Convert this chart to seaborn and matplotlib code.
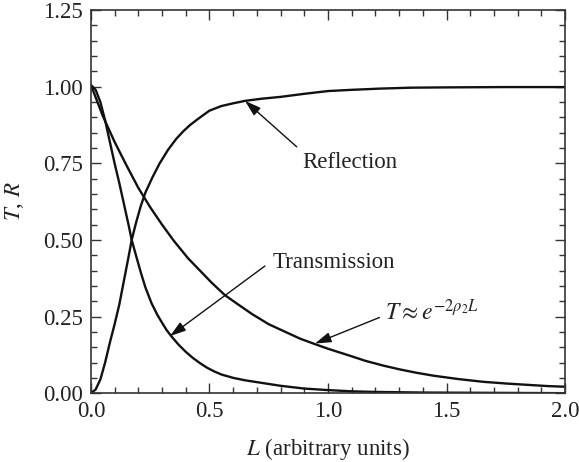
import matplotlib
matplotlib.use("Agg")
import matplotlib.pyplot as plt
from matplotlib.ticker import MultipleLocator
import seaborn as sns
import pandas as pd

# Barrier length (arbitrary units) and curves sampled along it
trans_L = [0.00, 0.02, 0.04, 0.06, 0.08, 0.10, 0.12, 0.14, 0.16, 0.172,
           0.19, 0.21, 0.23, 0.256, 0.28, 0.30, 0.32, 0.34, 0.37, 0.40,
           0.43, 0.46, 0.49, 0.52, 0.55, 0.60, 0.65, 0.70, 0.80, 0.90,
           1.00, 1.10, 1.20, 1.40, 1.70, 2.00]
trans_T = [1.006, 0.99, 0.95, 0.89, 0.82, 0.75, 0.685, 0.615, 0.545, 0.50,
           0.45, 0.395, 0.345, 0.293, 0.256, 0.23, 0.205, 0.185, 0.158, 0.135,
           0.115, 0.098, 0.083, 0.071, 0.061, 0.050, 0.042, 0.036, 0.024, 0.015,
           0.010, 0.006, 0.004, 0.002, 0.001, 0.000]

refl_L = [0.00, 0.02, 0.04, 0.06, 0.08, 0.10, 0.12, 0.14, 0.16, 0.172,
          0.19, 0.21, 0.23, 0.26, 0.29, 0.326, 0.36, 0.39, 0.418, 0.45,
          0.48, 0.50, 0.55, 0.60, 0.65, 0.72, 0.80, 0.90, 1.00, 1.10,
          1.22, 1.35, 1.50, 1.75, 2.00]
refl_R = [0.000, 0.012, 0.045, 0.10, 0.165, 0.225, 0.29, 0.37, 0.45, 0.50,
          0.555, 0.61, 0.655, 0.705, 0.75, 0.795, 0.83, 0.855, 0.875, 0.894,
          0.911, 0.922, 0.937, 0.946, 0.954, 0.961, 0.967, 0.977, 0.986, 0.990,
          0.994, 0.997, 0.998, 0.999, 0.999]

approx_L = [0.00, 0.05, 0.10, 0.149, 0.20, 0.25, 0.30, 0.35, 0.41, 0.46,
            0.51, 0.565, 0.62, 0.68, 0.75, 0.82, 0.882, 0.945, 1.00, 1.093,
            1.16, 1.233, 1.30, 1.37, 1.445, 1.55, 1.655, 1.76, 1.866, 1.93, 2.00]
approx_T = [1.006, 0.905, 0.82, 0.745, 0.67, 0.607, 0.55, 0.497, 0.44, 0.40,
            0.36, 0.32, 0.29, 0.258, 0.225, 0.20, 0.178, 0.16, 0.145, 0.122,
            0.105, 0.09, 0.078, 0.067, 0.057, 0.046, 0.037, 0.031, 0.026, 0.023, 0.021]

x_ticks = [0.0, 0.5, 1.0, 1.5, 2.0]
x_ticklabels = ["0.0", "0.5", "1.0", "1.5", "2.0"]
y_ticks = [0.0, 0.25, 0.50, 0.75, 1.00, 1.25]
y_ticklabels = ["0.00", "0.25", "0.50", "0.75", "1.00", "1.25"]

sns.set_style("ticks")
plt.rcParams["font.family"] = "serif"
plt.rcParams["font.serif"] = ["Liberation Serif", "DejaVu Serif"]
plt.rcParams["mathtext.fontset"] = "stix"
plt.rcParams["font.size"] = 16.5

fig, ax = plt.subplots(figsize=(5.79, 4.62), dpi=100)
fig.subplots_adjust(left=0.157, right=0.976, bottom=0.149, top=0.978)

curves = [
    pd.DataFrame({"L": trans_L, "val": trans_T}),
    pd.DataFrame({"L": refl_L, "val": refl_R}),
    pd.DataFrame({"L": approx_L, "val": approx_T}),
]
for df in curves:
    sns.lineplot(data=df, x="L", y="val", ax=ax, color="#111111",
                 linewidth=1.7, estimator=None, sort=False)

ax.set_xlim(0, 2.0)
ax.set_ylim(0, 1.25)
ax.set_xticks(x_ticks)
ax.set_xticklabels(x_ticklabels)
ax.set_yticks(y_ticks)
ax.set_yticklabels(y_ticklabels)
ax.xaxis.set_minor_locator(MultipleLocator(0.1))
ax.yaxis.set_minor_locator(MultipleLocator(0.05))
ax.tick_params(which="both", direction="in", top=True, right=True,
               colors="#333333", labelcolor="#222222", width=1.0)
ax.tick_params(which="major", length=7, pad=6, labelsize=16.5)
ax.tick_params(which="minor", length=4)
for s in ax.spines.values():
    s.set_color("#333333")
    s.set_linewidth(1.2)

ax.set_xlabel("$L$ (arbitrary units)", fontsize=16.5, color="#222222", labelpad=10)
ax.set_ylabel("$T$, $R$", fontsize=16.5, color="#222222", labelpad=12)

arrow = dict(arrowstyle="-|>,head_length=0.7,head_width=0.22", color="#111111",
             lw=1.0, mutation_scale=14, shrinkA=0, shrinkB=0)

ax.annotate("", xy=(0.65, 0.954), xytext=(0.868, 0.804), arrowprops=arrow)
ax.text(0.89, 0.754, "Reflection", ha="left", va="center", color="#222222")

ax.annotate("", xy=(0.333, 0.186), xytext=(0.734, 0.415), arrowprops=arrow)
ax.text(0.768, 0.428, "Transmission", ha="left", va="center", color="#222222")

ax.annotate("", xy=(0.945, 0.162), xytext=(1.217, 0.247), arrowprops=arrow)
ax.text(1.24, 0.238, r"$T \approx e^{-2\rho_2 L}$", ha="left", va="baseline",
        color="#222222", fontsize=17)

fig.savefig("out.png", dpi=100)
